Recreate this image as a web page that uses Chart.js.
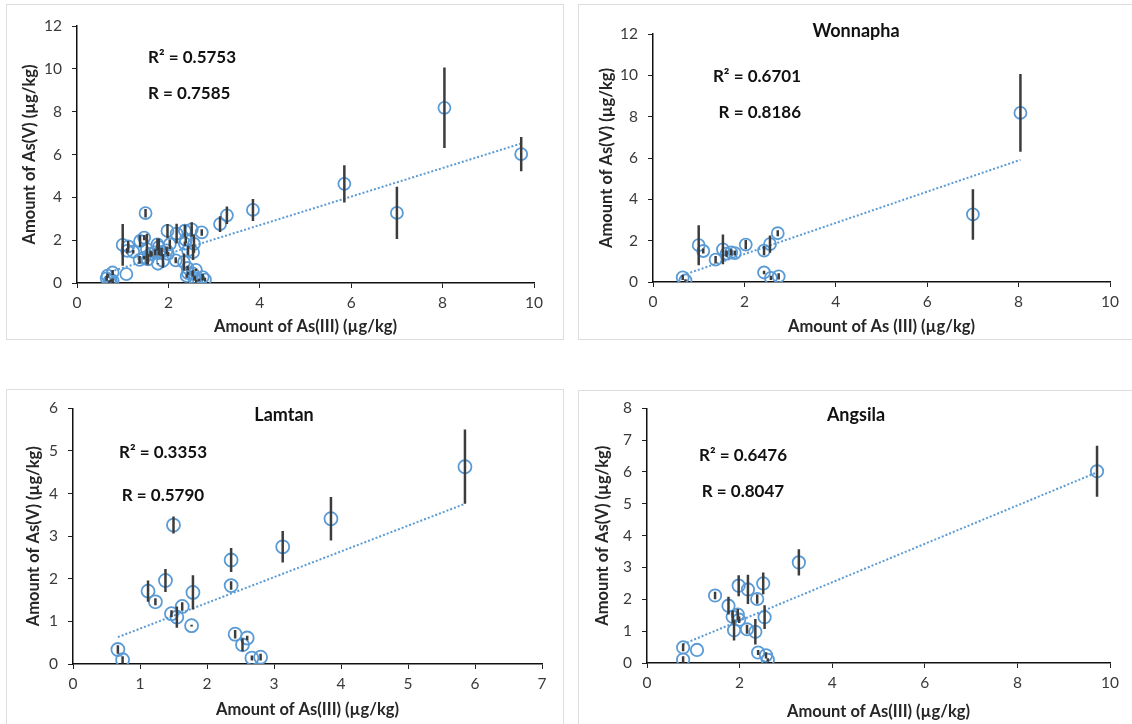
<!DOCTYPE html>
<html>
<head>
<meta charset="utf-8">
<script src="https://cdn.jsdelivr.net/npm/chart.js@4.4.0/dist/chart.umd.min.js"></script>
<style>
body{margin:0;background:#fff;width:1132px;height:724px;overflow:hidden;position:relative;font-family:Lato,sans-serif}
.frame{position:absolute;border:1.5px solid #dedede;box-sizing:border-box}
canvas{position:absolute}
</style>
</head>
<body>
<div class="frame" style="left:6px;top:4px;width:558px;height:336px"></div>
<div class="frame" style="left:578px;top:4px;width:560px;height:336px"></div>
<div class="frame" style="left:6px;top:389px;width:558px;height:345px"></div>
<div class="frame" style="left:578px;top:390px;width:560px;height:345px"></div>
<canvas id="chartAll" width="565" height="340" style="left:0;top:0"></canvas>
<canvas id="chartWon" width="567" height="340" style="left:565px;top:0"></canvas>
<canvas id="chartLam" width="565" height="335" style="left:0;top:389px"></canvas>
<canvas id="chartAng" width="567" height="335" style="left:565px;top:389px"></canvas>
<script>
// Wonnapha : As(III), As(V) and error (+/-), µg/kg
const wonX = [0.65, 0.71, 1.00, 1.10, 1.37, 1.53, 1.61, 1.71, 1.79, 2.03, 2.43, 2.56, 2.73, 2.43, 2.58, 2.75, 7.00, 8.04];
const wonY = [0.22, 0.08, 1.78, 1.50, 1.08, 1.58, 1.37, 1.43, 1.40, 1.81, 1.52, 1.83, 2.36, 0.46, 0.20, 0.27, 3.27, 8.18];
const wonErr = [0.12, 0.05, 0.97, 0.12, 0.18, 0.72, 0.15, 0.15, 0.12, 0.22, 0.22, 0.42, 0.15, 0.08, 0.10, 0.15, 1.22, 1.88];

// Lamtan
const lamX = [0.67, 0.74, 1.50, 1.12, 1.23, 1.38, 1.47, 1.55, 1.63, 1.79, 1.77, 2.36, 2.36, 3.13, 3.85, 5.85, 2.42, 2.53, 2.60, 2.67, 2.80];
const lamY = [0.34, 0.10, 3.26, 1.71, 1.46, 1.96, 1.18, 1.10, 1.35, 1.68, 0.90, 2.44, 1.84, 2.75, 3.41, 4.63, 0.70, 0.45, 0.61, 0.14, 0.16];
const lamErr = [0.10, 0.08, 0.20, 0.25, 0.08, 0.27, 0.08, 0.25, 0.10, 0.40, 0.02, 0.28, 0.10, 0.37, 0.51, 0.87, 0.10, 0.15, 0.05, 0.06, 0.08];

// Angsila
const angX = [0.78, 0.78, 1.08, 1.47, 1.76, 1.85, 1.88, 1.96, 1.99, 1.98, 2.18, 2.16, 2.34, 2.38, 2.51, 2.54, 2.40, 2.57, 2.61, 3.28, 9.72];
const angY = [0.49, 0.11, 0.41, 2.12, 1.80, 1.45, 1.03, 1.52, 1.36, 2.43, 2.31, 1.06, 0.98, 2.01, 2.50, 1.44, 0.33, 0.24, 0.10, 3.16, 6.02];
const angErr = [0.12, 0.10, 0.00, 0.12, 0.28, 0.20, 0.32, 0.18, 0.10, 0.33, 0.46, 0.14, 0.40, 0.15, 0.34, 0.37, 0.08, 0.10, 0.05, 0.41, 0.80];

// all three sites together (top-left panel)
const allX = wonX.concat(lamX, angX);
const allY = wonY.concat(lamY, angY);
const allErr = wonErr.concat(lamErr, angErr);

const ticks0to10 = [0, 2, 4, 6, 8, 10];
const ticks0to12 = [0, 2, 4, 6, 8, 10, 12];
const ticks0to7 = [0, 1, 2, 3, 4, 5, 6, 7];
const ticks0to6 = [0, 1, 2, 3, 4, 5, 6];
const ticks0to8 = [0, 1, 2, 3, 4, 5, 6, 7, 8];

const BLUE = "#5B9BD5";
const FONT = "Lato, 'Open Sans', sans-serif";

// text boxes (titles, R values) drawn over the chart
const panelText = {
    id:"panelText",
    afterDraw(chart, args, opts){
        const ctx = chart.ctx;
        ctx.save();
        (opts.items || []).forEach(t=>{
            ctx.font = t.font;
            ctx.fillStyle = "#111";
            ctx.textAlign = t.align;
            ctx.textBaseline = "middle";
            ctx.fillText(t.text, t.x, t.y);
        });
        ctx.restore();
    }
};

function fitLine(xs, ys){
    const n = xs.length;
    const mx = xs.reduce((a,b)=>a+b,0) / n;
    const my = ys.reduce((a,b)=>a+b,0) / n;
    let sxy = 0, sxx = 0;
    xs.forEach((x,i)=>{
        sxy += (x - mx) * (ys[i] - my);
        sxx += (x - mx) * (x - mx);
    });
    const slope = sxy / sxx;
    const lo = Math.min(...xs), hi = Math.max(...xs);
    return [
        {x:lo, y:my + slope * (lo - mx)},
        {x:hi, y:my + slope * (hi - mx)}
    ];
}

function errSegments(xs, ys, es){
    const out = [];
    xs.forEach((x,i)=>{
        if(!es[i]) return;
        out.push({x:x, y:ys[i] - es[i]});
        out.push({x:x, y:ys[i] + es[i]});
        out.push({x:x, y:null});
    });
    return out;
}

function makeChart(id, p){

    const pts = p.x.map((x,i)=>({x:x, y:p.y[i]}));

    const axisCommon = {
        type:"linear",
        grid:{drawOnChartArea:false, drawTicks:true, tickLength:5, color:"#222"},
        border:{color:"#111", width:1.5},
        ticks:{color:"#3a3a3a", padding:10, font:{family:FONT, size:15.5}}
    };

    new Chart(document.getElementById(id), {
        type:"scatter",
        data:{
            datasets:[
            {
                data:errSegments(p.x, p.y, p.err),
                showLine:true,
                borderColor:"#3c3c3c",
                borderWidth:2.5,
                pointRadius:0,
                spanGaps:false,
                order:0
            },
            {
                data:pts,
                pointStyle:"circle",
                pointRadius:p.r,
                pointBorderColor:BLUE,
                pointBackgroundColor:"rgba(0,0,0,0)",
                pointBorderWidth:1.8,
                order:1
            },
            {
                data:fitLine(p.x, p.y),
                showLine:true,
                borderColor:BLUE,
                borderWidth:2,
                borderDash:[2,2],
                pointRadius:0,
                order:2
            }
            ]
        },
        options:{
            responsive:false,
            animation:false,
            layout:{padding:{left:0, top:p.top, right:p.right, bottom:0}},
            plugins:{
                legend:{display:false},
                tooltip:{enabled:false},
                panelText:{items:p.texts}
            },
            scales:{
                x:Object.assign({}, axisCommon, {
                    min:p.xTicks[0],
                    max:p.xTicks[p.xTicks.length - 1],
                    afterBuildTicks:s=>{ s.ticks = p.xTicks.map(v=>({value:v})); },
                    afterFit:s=>{ s.height = p.xh; },
                    ticks:Object.assign({}, axisCommon.ticks, {padding:6}),
                    title:{
                        display:true,
                        text:p.xTitle,
                        color:"#262626",
                        font:{family:FONT, size:16.5, weight:"bold"},
                        padding:{top:0, bottom:p.xtPad}
                    }
                }),
                y:Object.assign({}, axisCommon, {
                    min:p.yTicks[0],
                    max:p.yTicks[p.yTicks.length - 1],
                    afterBuildTicks:s=>{ s.ticks = p.yTicks.map(v=>({value:v})); },
                    afterFit:s=>{ s.width = p.yw; },
                    title:{
                        display:true,
                        text:"Amount of As(V) (µg/kg)",
                        color:"#262626",
                        font:{family:FONT, size:16.5, weight:"bold"},
                        padding:{top:p.ytPad, bottom:0}
                    }
                })
            }
        },
        plugins:[panelText]
    });
}

const boldR = "bold 17px " + FONT;
const boldT = "bold 18px " + FONT;

makeChart("chartAll", {
    x:allX, y:allY, err:allErr, r:6,
    xTicks:ticks0to10, yTicks:ticks0to12,
    yw:77, top:26, right:31, xh:57, ytPad:20, xtPad:3,
    xTitle:"Amount of As(III) (µg/kg)",
    texts:[
        {text:"R² = 0.5753", x:148, y:58, align:"left", font:boldR},
        {text:"R = 0.7585", x:148, y:94, align:"left", font:boldR}
    ]
});

makeChart("chartWon", {
    x:wonX, y:wonY, err:wonErr, r:6,
    xTicks:ticks0to10, yTicks:ticks0to12,
    yw:88, top:34, right:22, xh:58, ytPad:32, xtPad:3,
    xTitle:"Amount of As (III) (µg/kg)",
    texts:[
        {text:"Wonnapha", x:291, y:31, align:"center", font:boldT},
        {text:"R² = 0.6701", x:236, y:77, align:"right", font:boldR},
        {text:"R = 0.8186", x:236, y:113, align:"right", font:boldR}
    ]
});

makeChart("chartLam", {
    x:lamX, y:lamY, err:lamErr, r:6.5,
    xTicks:ticks0to7, yTicks:ticks0to6,
    yw:73, top:19, right:23, xh:60, ytPad:24, xtPad:4,
    xTitle:"Amount of As(III) (µg/kg)",
    texts:[
        {text:"Lamtan", x:284, y:26, align:"center", font:boldT},
        {text:"R² = 0.3353", x:163, y:64, align:"center", font:boldR},
        {text:"R = 0.5790", x:163, y:107, align:"center", font:boldR}
    ]
});

makeChart("chartAng", {
    x:angX, y:angY, err:angErr, r:6.2,
    xTicks:ticks0to10, yTicks:ticks0to8,
    yw:82, top:14, right:22, xh:61, ytPad:28, xtPad:2,
    xTitle:"Amount of As(III) (µg/kg)",
    texts:[
        {text:"Angsila", x:291, y:26, align:"center", font:boldT},
        {text:"R² = 0.6476", x:178, y:67, align:"center", font:boldR},
        {text:"R = 0.8047", x:178, y:103, align:"center", font:boldR}
    ]
});
</script>
</body>
</html>
